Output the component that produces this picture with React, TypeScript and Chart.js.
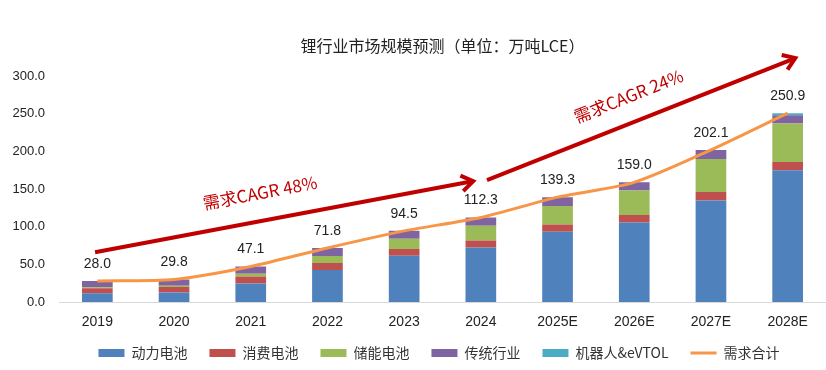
import React, { useEffect, useRef } from 'react';
import { Chart, registerables } from 'chart.js';

Chart.register(...registerables);

// ---- Data ----
const categories = ['2019', '2020', '2021', '2022', '2023', '2024', '2025E', '2026E', '2027E', '2028E'];
const powerBattery = [11.6, 12.6, 24.5, 42.6, 61.6, 72.5, 93.3, 105.5, 135.0, 175.0];
const consumerBattery = [6.7, 7.2, 9.5, 9.3, 8.9, 9.3, 9.7, 10.2, 11.0, 11.0];
const storageBattery = [1.3, 1.8, 3.6, 9.3, 13.4, 19.5, 24.5, 32.5, 44.0, 51.0];
const traditional = [8.4, 8.2, 9.5, 10.6, 10.6, 11.0, 11.8, 10.8, 12.0, 11.0];
const robotEvtol = [0, 0, 0, 0, 0, 0, 0, 0, 0.1, 2.9];
const totalDemand = [28.0, 29.8, 47.1, 71.8, 94.5, 112.3, 139.3, 159.0, 202.1, 250.9];
const yMin = 0;
const yMax = 300;
const yStep = 50;

const seriesNames = ['动力电池', '消费电池', '储能电池', '传统行业', '机器人&eVTOL', '需求合计'];
const titleText = '锂行业市场规模预测（单位：万吨LCE）';

// CAGR annotations (in data coordinates: category index, value)
const cagrLabels = ['需求CAGR 48%', '需求CAGR 24%'];
const cagrFromX = [-0.03, 5.08];
const cagrFromY = [66, 162];
const cagrToX = [4.9, 9.1];
const cagrToY = [160.5, 324];

const CJK = '"Noto Sans CJK SC", "Noto Sans", sans-serif';
const LATIN = '"Liberation Sans", Arial, sans-serif';

const overlayPlugin = {
  id: 'overlay',
  afterDatasetsDraw(chart: any) {
    const ctx = chart.ctx;
    const xs = chart.scales.x;
    const ys = chart.scales.y;
    // total labels
    ctx.save();
    ctx.font = `14px ${LATIN}`;
    ctx.fillStyle = '#222';
    ctx.textAlign = 'center';
    ctx.textBaseline = 'middle';
    totalDemand.forEach((v, i) => {
      const x = xs.getPixelForValue(i);
      const y = ys.getPixelForValue(v);
      ctx.fillText(v.toFixed(1), x, y - 17);
    });
    ctx.restore();

    // CAGR arrows
    const red = '#C00000';
    const tFrac = [0.45, 0.49];
    const offs = [28, 26];
    cagrLabels.forEach((label, k) => {
      const x0 = xs.getPixelForValue(cagrFromX[k]);
      const y0 = ys.getPixelForValue(cagrFromY[k]);
      const x1 = xs.getPixelForValue(cagrToX[k]);
      const y1 = ys.getPixelForValue(cagrToY[k]);
      const a = Math.atan2(y1 - y0, x1 - x0);
      ctx.save();
      ctx.strokeStyle = red;
      ctx.lineWidth = 4;
      ctx.lineCap = 'butt';
      ctx.lineJoin = 'miter';
      ctx.beginPath();
      ctx.moveTo(x0, y0);
      ctx.lineTo(x1 - Math.cos(a) * 2, y1 - Math.sin(a) * 2);
      ctx.stroke();
      const L = 14;
      const th = 0.6;
      ctx.beginPath();
      ctx.moveTo(x1 - L * Math.cos(a - th), y1 - L * Math.sin(a - th));
      ctx.lineTo(x1, y1);
      ctx.lineTo(x1 - L * Math.cos(a + th), y1 - L * Math.sin(a + th));
      ctx.stroke();

      const t = tFrac[k];
      const px = x0 + (x1 - x0) * t + Math.sin(a) * offs[k];
      const py = y0 + (y1 - y0) * t - Math.cos(a) * offs[k];
      ctx.translate(px, py);
      ctx.rotate(a);
      ctx.font = `17px ${CJK}`;
      ctx.fillStyle = red;
      ctx.textAlign = 'center';
      ctx.textBaseline = 'middle';
      ctx.fillText(label, 0, 0);
      ctx.restore();
    });
  },
};

export default function App() {
  const ref = useRef<HTMLCanvasElement | null>(null);

  useEffect(() => {
    if (!ref.current) return;
    const barColors = ['#4F81BD', '#C0504D', '#9BBB59', '#8064A2', '#4BACC6'];
    const barSeries = [powerBattery, consumerBattery, storageBattery, traditional, robotEvtol];
    const datasets: any[] = barSeries.map((d, i) => ({
      type: 'bar',
      label: seriesNames[i],
      data: d,
      backgroundColor: barColors[i],
      borderWidth: 0,
      stack: 'demand',
      categoryPercentage: 1,
      barPercentage: 0.4,
      order: 1,
    }));
    datasets.push({
      type: 'line',
      label: seriesNames[5],
      data: totalDemand,
      borderColor: '#F79646',
      backgroundColor: '#F79646',
      borderWidth: 3,
      pointRadius: 0,
      tension: 0.25,
      stack: 'total',
      order: 0,
    });

    const chart = new Chart(ref.current, {
      type: 'bar',
      data: { labels: categories, datasets },
      plugins: [overlayPlugin],
      options: {
        responsive: false,
        animation: false,
        layout: { padding: { left: 12, right: 0, top: 0, bottom: 0 } },
        plugins: {
          tooltip: { enabled: false },
          title: {
            display: true,
            text: titleText,
            fullSize: false,
            color: '#222',
            font: { family: CJK, size: 16, weight: 'normal' },
            padding: { top: 36, bottom: 21 },
          },
          legend: {
            position: 'bottom',
            fullSize: false,
            labels: {
              usePointStyle: true,
              pointStyleWidth: 26,
              boxWidth: 26,
              boxHeight: 8,
              padding: 15,
              color: '#333',
              font: { family: CJK, size: 14 },
              generateLabels: (c: any) => {
                const items = (Chart.defaults.plugins.legend.labels as any).generateLabels(c);
                items.sort((p: any, q: any) => p.datasetIndex - q.datasetIndex);
                items.forEach((it: any) => {
                  const ds = c.data.datasets[it.datasetIndex];
                  it.text = it.text + '\u2002';
                  if (ds.type === 'line') {
                    it.pointStyle = 'line';
                    it.strokeStyle = '#F79646';
                    it.lineWidth = 3;
                  } else {
                    it.pointStyle = 'rect';
                    it.lineWidth = 0;
                  }
                });
                return items;
              },
            },
          },
        },
        scales: {
          x: {
            stacked: true,
            grid: { display: false, drawTicks: false },
            border: { display: true, color: '#D9D9D9', width: 1 },
            ticks: { color: '#222', font: { family: LATIN, size: 14 }, padding: 12, maxRotation: 0, autoSkip: false },
            afterFit: (s: any) => { s.height = 29; },
          },
          y: {
            stacked: true,
            min: yMin,
            max: yMax,
            grid: { display: false, drawTicks: false },
            border: { display: false },
            ticks: {
              stepSize: yStep,
              color: '#222',
              font: { family: LATIN, size: 13 },
              padding: 14,
              callback: (v: any) => Number(v).toFixed(1),
            },
            afterFit: (s: any) => { s.width = 47; },
          },
        },
      },
    } as any);
    return () => chart.destroy();
  }, []);

  return (
    <div style={{ position: 'absolute', left: 0, top: 0, width: 826, height: 370, background: '#fff' }}>
      <canvas ref={ref} width={826} height={370} style={{ display: 'block' }} />
    </div>
  );
}
